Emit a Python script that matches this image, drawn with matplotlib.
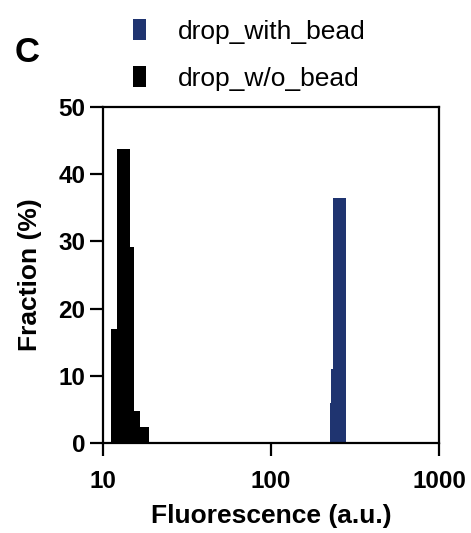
import matplotlib
matplotlib.use("Agg")
import matplotlib.pyplot as plt
from matplotlib.ticker import FixedLocator, NullLocator

plt.rcParams['font.family'] = ['Liberation Sans', 'DejaVu Sans']

# histogram bins (a.u.) and fractions (%)
without_edges = [11.16, 12.12, 14.5, 15.42, 16.67, 18.94]
without_frac = [17.0, 43.8, 29.2, 4.7, 2.3]

with_edges = [225.4, 228.5, 233.3, 280.7]
with_frac = [6.0, 11.0, 36.4]

x_ticks = [10, 100, 1000]
y_ticks = [0, 10, 20, 30, 40, 50]

navy = '#1f3470'


def widths(edges):
    return [b - a for a, b in zip(edges[:-1], edges[1:])]


fig = plt.figure(figsize=(4.71, 5.33), dpi=100)
ax = fig.add_axes([0.218, 0.169, 0.714, 0.630])

h1 = ax.bar(with_edges[:-1], with_frac, width=widths(with_edges), align='edge',
            color=navy, edgecolor='none', label='drop_with_bead')
h2 = ax.bar(without_edges[:-1], without_frac, width=widths(without_edges), align='edge',
            color='black', edgecolor='none', label='drop_w/o_bead')

ax.set_xscale('log')
ax.set_xlim(10, 1000)
ax.set_ylim(0, 50)
ax.xaxis.set_major_locator(FixedLocator(x_ticks))
ax.xaxis.set_minor_locator(NullLocator())
ax.set_xticklabels([str(t) for t in x_ticks])
ax.set_yticks(y_ticks)

for s in ax.spines.values():
    s.set_linewidth(1.6)
ax.tick_params(direction='out', length=9.5, width=1.6, labelsize=17.5)
ax.tick_params(axis='x', pad=10)
ax.tick_params(axis='y', pad=3)
for lab in ax.get_xticklabels() + ax.get_yticklabels():
    lab.set_fontweight('bold')

ax.set_xlabel('Fluorescence (a.u.)', fontsize=19, fontweight='bold', labelpad=8)
ax.set_ylabel('Fraction (%)', fontsize=19, fontweight='bold', labelpad=12)

fig.text(0.057, 0.902, 'C', fontsize=25, fontweight='bold', ha='center', va='center')

fig.legend(handles=[h1, h2], loc='upper left', bbox_to_anchor=(0.282, 0.964),
           frameon=False, fontsize=19, handlelength=0.5, handleheight=0.85,
           handletextpad=1.2, labelspacing=0.85, borderpad=0, borderaxespad=0)

fig.savefig('out.png', dpi=100)
